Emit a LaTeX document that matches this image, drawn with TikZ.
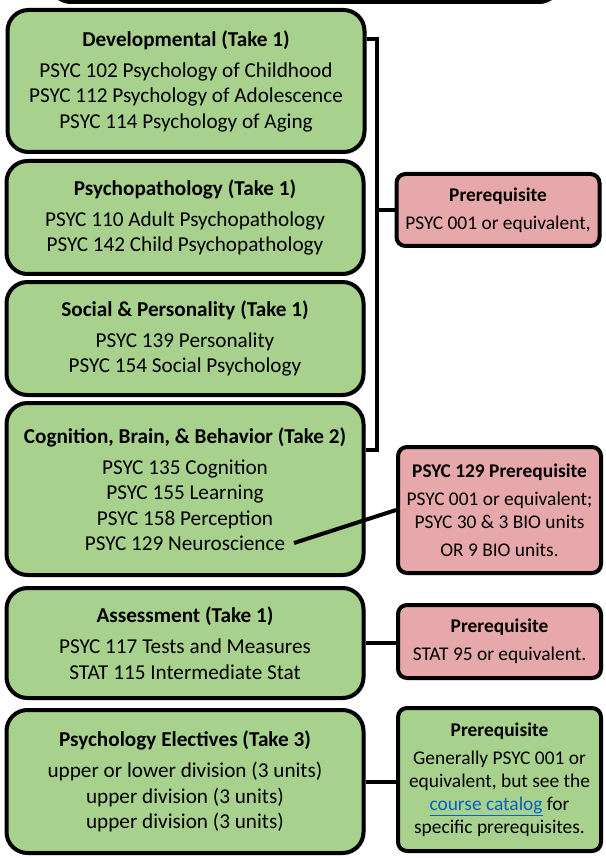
\documentclass[tikz,border=0pt]{standalone}
\usepackage{fontspec}
\setmainfont{Carlito}
\usetikzlibrary{shadows}
\definecolor{boxgreen}{RGB}{169,209,142}
\definecolor{boxpink}{RGB}{230,168,170}
\definecolor{linkblue}{RGB}{5,99,193}

\begin{document}
\begin{tikzpicture}[x=1pt,y=-1pt,
	group/.style={draw,line width=4pt,rounded corners=21pt,fill=boxgreen,align=center,
		inner sep=0pt,minimum width=357pt,font=\fontsize{21.2}{25.5}\selectfont,
		drop shadow={opacity=0.25,shadow xshift=2pt,shadow yshift=-2pt}},
	prereq/.style={draw,line width=4pt,rounded corners=9pt,fill=boxpink,align=center,
		inner sep=0pt,minimum width=203pt,font=\fontsize{19.4}{23}\selectfont,
		drop shadow={opacity=0.25,shadow xshift=2pt,shadow yshift=-2pt}},
	wire/.style={line width=4pt}]
	\clip (0,0) rectangle (605,858);

	\node[draw,line width=4pt,rounded corners=21pt,fill=white,minimum width=510pt,minimum height=84pt] (prev) at (305,-40) {};

	\node[group,minimum height=142pt] (dev) at (186,81) {\textbf{Developmental (Take 1)}\\[5.5pt]
		PSYC 102 Psychology of Childhood\\
		PSYC 112 Psychology of Adolescence\\
		PSYC 114 Psychology of Aging};
	\node[group,minimum height=113pt] (path) at (185,217.5) {\textbf{Psychopathology (Take 1)}\\[5.5pt]
		PSYC 110 Adult Psychopathology\\
		PSYC 142 Child Psychopathology};
	\node[group,minimum height=113pt] (social) at (185,338.5) {\textbf{Social \& Personality (Take 1)}\\[5.5pt]
		PSYC 139 Personality\\
		PSYC 154 Social Psychology};
	\node[group,minimum height=172pt] (cog) at (185,489) {\textbf{Cognition, Brain, \& Behavior (Take 2)}\\[5.5pt]
		PSYC 135 Cognition\\
		PSYC 155 Learning\\
		PSYC 158 Perception\\
		PSYC 129 Neuroscience};
	\node[group,minimum height=110pt] (assess) at (185,643) {\textbf{Assessment (Take 1)}\\[5.5pt]
		PSYC 117 Tests and Measures\\
		STAT 115 Intermediate Stat};
	\node[group,minimum height=143pt] (elect) at (185,781.5) {\textbf{Psychology Electives (Take 3)}\\[5.5pt]
		upper or lower division (3 units)\\
		upper division (3 units)\\
		upper division (3 units)};

	\node[prereq,minimum height=72pt] (pre1) at (498,210) {\textbf{Prerequisite}\\[5pt]
		PSYC 001 or equivalent,};
	\node[prereq,minimum height=126pt] (pre129) at (499.5,510) {\textbf{PSYC 129 Prerequisite}\\[5pt]
		PSYC 001 or equivalent;\\
		PSYC 30 \& 3 BIO units\\[5pt]
		OR 9 BIO units.};
	\node[prereq,minimum height=73pt] (prestat) at (499.5,641.5) {\textbf{Prerequisite}\\[5pt]
		STAT 95 or equivalent.};
	\node[prereq,fill=boxgreen,minimum height=143pt] (preelect) at (499.5,779.5) {\textbf{Prerequisite}\\[5pt]
		Generally PSYC 001 or\\
		equivalent, but see the\\
		\textcolor{linkblue}{\underline{course catalog}} for\\
		specific prerequisites.};

	\coordinate (brtop) at (377,39);
	\coordinate (brbot) at (377,450);
	\coordinate (neuro) at (294,543);
	\draw[wire] (dev.east |- brtop) -- (brtop) -- (brbot) -- (cog.east |- brbot);
	\draw[wire] (brbot |- pre1.west) -- (pre1.west);
	\draw[wire] (neuro) -- (pre129.west);
	\draw[wire] (assess.east) -- (assess.east -| prestat.west);
	\draw[wire] (elect.east) -- (elect.east -| preelect.west);
\end{tikzpicture}
\end{document}
